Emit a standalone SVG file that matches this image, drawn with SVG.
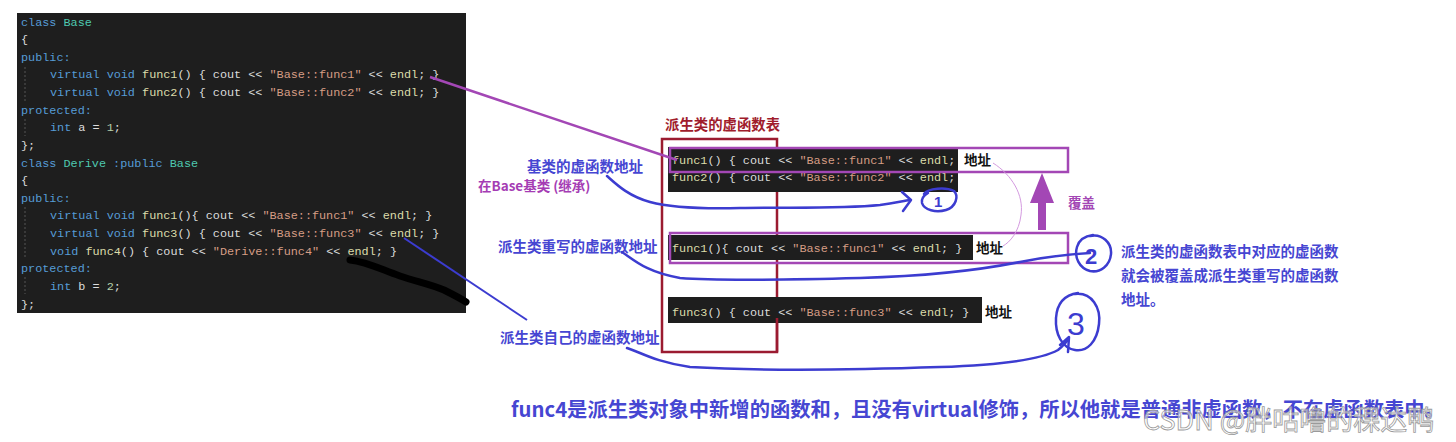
<svg xmlns="http://www.w3.org/2000/svg" width="1456" height="442" viewBox="0 0 1456 442">
<defs>
<style>
.code{font-family:"Liberation Mono",monospace;font-size:11.8px;fill:#dcdcdc}
.k{fill:#569cd6}.t{fill:#4ec9b0}.f{fill:#dcdcaa}.s{fill:#d69d85}.n{fill:#b5cea8}
.cj{font-family:"Noto Sans CJK SC",sans-serif;font-weight:bold}
.blue{fill:#4646d2}
.hand{fill:none;stroke:#3c3cd0;stroke-width:2.5;stroke-linecap:round;stroke-linejoin:round}
.pbox{fill:none;stroke:#a347b5;stroke-width:2.5}
.dark{fill:#1e1e1e}
.guide{stroke:#555;stroke-width:1;stroke-dasharray:2 2}
</style>
</defs>
<rect width="1456" height="442" fill="#ffffff"/>

<g id="code-panel">
<rect x="17" y="13" width="449" height="300" fill="#1e1e1e"/>
<line class="guide" x1="25" y1="67" x2="25" y2="101"/>
<line class="guide" x1="25" y1="119" x2="25" y2="136"/>
<line class="guide" x1="25" y1="207" x2="25" y2="259"/>
<line class="guide" x1="25" y1="277" x2="25" y2="294"/>
<text class="code" x="21" y="25.5"><tspan class="k">class</tspan> <tspan class="t">Base</tspan></text>
<text class="code" x="21" y="43.1">{</text>
<text class="code" x="21" y="60.8"><tspan class="k">public:</tspan></text>
<text class="code" x="50" y="78.4"><tspan class="k">virtual void</tspan> <tspan class="f">func1</tspan>() { cout &lt;&lt; <tspan class="s">"Base::func1"</tspan> &lt;&lt; <tspan class="f">endl</tspan>; }</text>
<text class="code" x="50" y="96"><tspan class="k">virtual void</tspan> <tspan class="f">func2</tspan>() { cout &lt;&lt; <tspan class="s">"Base::func2"</tspan> &lt;&lt; <tspan class="f">endl</tspan>; }</text>
<text class="code" x="21" y="113.6"><tspan class="k">protected:</tspan></text>
<text class="code" x="50" y="131.3"><tspan class="k">int</tspan> a = <tspan class="n">1</tspan>;</text>
<text class="code" x="21" y="148.9">};</text>
<text class="code" x="21" y="166.5"><tspan class="k">class</tspan> <tspan class="t">Derive</tspan> <tspan class="k">:public</tspan> <tspan class="t">Base</tspan></text>
<text class="code" x="21" y="184.1">{</text>
<text class="code" x="21" y="201.8"><tspan class="k">public:</tspan></text>
<text class="code" x="50" y="219.4"><tspan class="k">virtual void</tspan> <tspan class="f">func1</tspan>(){ cout &lt;&lt; <tspan class="s">"Base::func1"</tspan> &lt;&lt; <tspan class="f">endl</tspan>; }</text>
<text class="code" x="50" y="237"><tspan class="k">virtual void</tspan> <tspan class="f">func3</tspan>() { cout &lt;&lt; <tspan class="s">"Base::func3"</tspan> &lt;&lt; <tspan class="f">endl</tspan>; }</text>
<text class="code" x="50" y="254.6"><tspan class="k">void</tspan> <tspan class="f">func4</tspan>() { cout &lt;&lt; <tspan class="s">"Derive::func4"</tspan> &lt;&lt; <tspan class="f">endl</tspan>; }</text>
<text class="code" x="21" y="272.3"><tspan class="k">protected:</tspan></text>
<text class="code" x="50" y="289.9"><tspan class="k">int</tspan> b = <tspan class="n">2</tspan>;</text>
<text class="code" x="21" y="307.5">};</text>
<path d="M350,260 C368,262 382,270 400,276 C418,282 430,284 444,290 C452,294 460,298 466,302" fill="none" stroke="#000" stroke-width="7" stroke-linecap="round"/>
</g>

<g id="vtable">
<text class="cj" x="665" y="130" font-size="14.4" fill="#a01c2c">派生类的虚函数表</text>
<rect x="662" y="139" width="115" height="213" fill="none" stroke="#9b1b30" stroke-width="2.5"/>
</g>

<g id="entry-func1-base">
<rect class="dark" x="668" y="147" width="290" height="45"/>
<text class="code" x="672" y="164"><tspan class="f">func1</tspan>() { cout &lt;&lt; <tspan class="s">"Base::func1"</tspan> &lt;&lt; <tspan class="f">endl</tspan>;</text>
<text class="code" x="672" y="181"><tspan class="f">func2</tspan>() { cout &lt;&lt; <tspan class="s">"Base::func2"</tspan> &lt;&lt; <tspan class="f">endl</tspan>;</text>
<text class="cj" x="964" y="165" font-size="13.5" fill="#111">地址</text>
<rect class="pbox" x="670" y="148" width="398" height="24"/>
</g>

<g id="entry-func1-derive">
<rect class="dark" x="668" y="235" width="305" height="25"/>
<text class="code" x="672" y="252"><tspan class="f">func1</tspan>(){ cout &lt;&lt; <tspan class="s">"Base::func1"</tspan> &lt;&lt; <tspan class="f">endl</tspan>; }</text>
<text class="cj" x="976" y="253" font-size="13.5" fill="#111">地址</text>
<rect class="pbox" x="670" y="233" width="398" height="30"/>
</g>

<g id="entry-func3">
<rect class="dark" x="668" y="297" width="314" height="26"/>
<text class="code" x="672" y="316"><tspan class="f">func3</tspan>() { cout &lt;&lt; <tspan class="s">"Base::func3"</tspan> &lt;&lt; <tspan class="f">endl</tspan>; }</text>
<text class="cj" x="985" y="317" font-size="13.5" fill="#111">地址</text>
<line x1="777" y1="318" x2="777" y2="352" stroke="#9b1b30" stroke-width="2.5"/>
</g>

<g id="override-arrow">
<rect x="1038" y="202" width="8" height="28" fill="#a347b5"/>
<polygon points="1042,173 1054,203 1030,203" fill="#a347b5"/>
<text class="cj" x="1068" y="208" font-size="13.5" fill="#a347b5">覆盖</text>
</g>

<g id="labels">
<text class="cj blue" x="527" y="172" font-size="14.5">基类的虚函数地址</text>
<text class="cj" x="478" y="191" font-size="13.5" fill="#a53cb4">在Base基类 (继承)</text>
<text class="cj blue" x="498" y="252" font-size="14.5">派生类重写的虚函数地址</text>
<text class="cj blue" x="500" y="343" font-size="14.5">派生类自己的虚函数地址</text>
<text class="cj blue" x="1121" y="257" font-size="14.5">派生类的虚函数表中对应的虚函数</text>
<text class="cj blue" x="1121" y="281" font-size="14.5">就会被覆盖成派生类重写的虚函数</text>
<text class="cj blue" x="1121" y="305" font-size="14.5">地址。</text>
<text class="cj blue" x="511" y="417" font-size="20.3">func4是派生类对象中新增的函数和，且没有virtual修饰，所以他就是普通非虚函数，不在虚函数表中。</text>
<text x="1143" y="430" font-family="'Noto Sans CJK SC',sans-serif" font-size="27" fill="#ffffff" fill-opacity="0.55" stroke="#9a9a9a" stroke-width="0.8">CSDN @胖咕噜的稞达鸭</text>
</g>

<g id="markers">
<path class="hand" d="M924,194 C928,188 946,187 954,191 C959,196 956,207 946,210 C936,213 924,210 922,203 C921,199 923,196 928,193"/>
<text x="934" y="207" font-family="'Liberation Sans',sans-serif" font-weight="bold" font-size="15" fill="#3c3cd0">1</text>
<path class="hand" d="M1090,236 C1102,233 1112,243 1111,254 C1110,266 1100,273 1090,271 C1079,268 1074,257 1077,247 C1079,240 1085,236 1093,235"/>
<text x="1085" y="264" font-family="'Liberation Sans',sans-serif" font-weight="bold" font-size="22" fill="#3c3cd0">2</text>
<path class="hand" d="M1075,294 C1092,292 1101,308 1099,324 C1097,342 1087,352 1075,350 C1062,348 1055,334 1056,318 C1057,303 1064,295 1078,293"/>
<text x="1067" y="335" font-family="'Liberation Sans',sans-serif" font-size="32" fill="#3c3cd0">3</text>
</g>

<g id="connectors">
<path d="M430,77 L677,160" fill="none" stroke="#a347b5" stroke-width="2.5"/>
<path d="M404,238 L527,320" fill="none" stroke="#3c3cd0" stroke-width="2"/>
<path d="M993,163 C1012,175 1024,195 1021,215 C1019,232 1010,242 1003,246" fill="none" stroke="#d49ae0" stroke-width="1"/>
<path class="hand" d="M607,176 C616,184 628,196 650,202 C672,208 700,209 740,208 C790,207 840,209 880,205 C895,203 903,201 910,200"/>
<path class="hand" d="M902,192 L911,200 L903,211"/>
<path class="hand" d="M622,252 C634,260 646,272 680,278 C720,281 780,280 860,278 C930,276 980,270 1020,262 C1050,256 1072,254 1090,253"/>
<path class="hand" d="M627,348 C640,352 655,362 690,367 C760,371 850,370 940,367 C1000,365 1040,360 1058,350 C1063,346 1066,342 1068,340"/>
<path class="hand" d="M1060,345 L1069,337 L1068,352"/>
</g>
</svg>
